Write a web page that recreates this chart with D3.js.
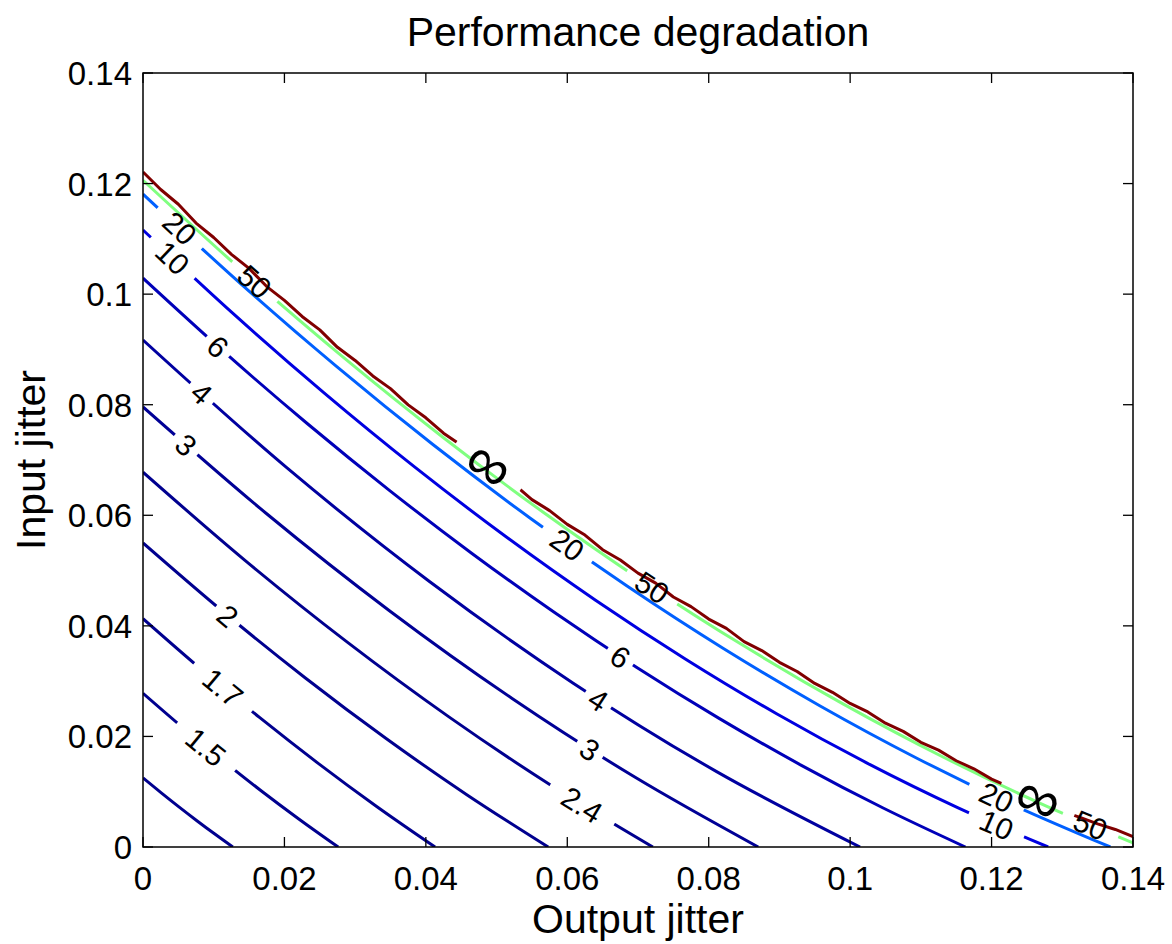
<!DOCTYPE html>
<html><head><meta charset="utf-8">
<script src="https://cdn.jsdelivr.net/npm/d3@7"></script>
<style>
body{margin:0;background:#fff}
svg{display:block}
text{font-family:"Liberation Sans",Arial,Helvetica,sans-serif;fill:#000}
</style>
</head><body>
<svg id="chart" width="1172" height="944"></svg>
<script>
// ---------------- data ----------------
const xTicks = [0, 0.02, 0.04, 0.06, 0.08, 0.1, 0.12, 0.14];
const yTicks = [0, 0.02, 0.04, 0.06, 0.08, 0.1, 0.12, 0.14];
const tickLabels = ["0", "0.02", "0.04", "0.06", "0.08", "0.1", "0.12", "0.14"];

const levelNames = ["1.3", "1.5", "1.7", "2", "2.4", "3", "4", "6", "10", "20", "50", "∞"];

const c1_3 = [[0,0.0125],[0.00254,0.00984],[0.00508,0.00726],[0.00762,0.00476],[0.01016,0.00234],[0.0127,0]];
const c1_5 = [[0,0.0278],[0.00552,0.02171],[0.01104,0.01588],[0.01656,0.01032],[0.02208,0.00503],[0.0276,0]];
const c1_7 = [[0,0.0413],[0.00826,0.03211],[0.01652,0.02339],[0.02478,0.01513],[0.03304,0.00733],[0.0413,0]];
const c2   = [[0,0.055],[0.01146,0.04242],[0.02292,0.03062],[0.03438,0.01962],[0.04584,0.00942],[0.0573,0]];
const c2_4 = [[0,0.0678],[0.01442,0.05185],[0.02884,0.0371],[0.04326,0.02354],[0.05768,0.01117],[0.0721,0]];
const c3   = [[0,0.0796],[0.0174,0.06037],[0.0348,0.04279],[0.0522,0.02687],[0.0696,0.01261],[0.087,0]];
const c4   = [[0,0.0917],[0.02028,0.06866],[0.04056,0.04798],[0.06084,0.02964],[0.08112,0.01364],[0.1014,0]];
const c6   = [[0,0.1029],[0.01163,0.08937],[0.02326,0.07656],[0.03489,0.06447],[0.04652,0.0531],[0.05815,0.04245],[0.06978,0.03252],[0.08141,0.02331],[0.09304,0.01482],[0.10467,0.00705],[0.1163,0]];
const c10  = [[0,0.1116],[0.0128,0.09642],[0.0256,0.08214],[0.0384,0.06875],[0.0512,0.05625],[0.064,0.04464],[0.0768,0.03393],[0.0896,0.0241],[0.1024,0.01518],[0.1152,0.00714],[0.128,0]];
const c20  = [[0,0.1181],[0.01368,0.10204],[0.02736,0.08692],[0.04104,0.07275],[0.05472,0.05952],[0.0684,0.04724],[0.08208,0.0359],[0.09576,0.02551],[0.10944,0.01606],[0.12312,0.00756],[0.1368,0]];
const c50  = [[0,0.1206],[0.01415,0.10411],[0.0283,0.0886],[0.04245,0.07408],[0.0566,0.06055],[0.07075,0.048],[0.0849,0.03643],[0.09905,0.02584],[0.1132,0.01624],[0.12735,0.00763],[0.14,0.00076]];
const cInf = [[0,0.1221],[0.0025,0.11893],[0.005,0.11626],[0.0075,0.11286],[0.01,0.11025],[0.0125,0.1072],[0.015,0.10465],[0.0175,0.10137],[0.02,0.09888],[0.0225,0.09596],[0.025,0.09354],[0.0275,0.09038],[0.03,0.08801],[0.0325,0.08521],[0.035,0.08291],[0.0375,0.07997],[0.04,0.07763],[0.0425,0.07485],[0.045,0.07267],[0.0475,0.06996],[0.05,0.06774],[0.0525,0.06559],[0.055,0.06283],[0.0575,0.06084],[0.06,0.05835],[0.0625,0.05642],[0.065,0.05378],[0.0675,0.05191],[0.07,0.04954],[0.0725,0.04773],[0.075,0.04522],[0.0775,0.04348],[0.08,0.04123],[0.0825,0.03954],[0.085,0.03715],[0.0875,0.03553],[0.09,0.0334],[0.0925,0.03174],[0.095,0.02958],[0.0975,0.02798],[0.1,0.02597],[0.1025,0.02443],[0.105,0.02239],[0.1075,0.02091],[0.11,0.01893],[0.1125,0.01752],[0.115,0.0156],[0.1175,0.01414],[0.12,0.01228],[0.1225,0.01089],[0.125,0.00919],[0.1275,0.00796],[0.13,0.00643],[0.1325,0.00536],[0.135,0.00418],[0.1375,0.00317],[0.14,0.00186]];

const contourData = [c1_3, c1_5, c1_7, c2, c2_4, c3, c4, c6, c10, c20, c50, cInf];

// inline contour labels: which level, and at which output-jitter value along it
const labelLevels = ["1.5","1.7","2","2.4","3","3","4","4","6","6","10","10","20","20","20","50","50","50","∞","∞"];
const labelAtX    = [0.0089,0.0113,0.012,0.0621,0.0061,0.0632,0.0083,0.0644,0.0106,0.0675,0.0042,0.1207,0.0052,0.060,0.1207,0.0158,0.072,0.134,0.0488,0.1265];

// ---------------- styles ----------------
const levelColors = ["rgb(0,0,143)","rgb(0,0,143)","rgb(0,0,143)","rgb(0,0,143)","rgb(0,0,143)","rgb(0,0,150)","rgb(0,0,160)","rgb(0,0,185)","rgb(0,0,225)","rgb(0,96,255)","rgb(128,255,128)","rgb(128,0,0)"];

const W = 1172, H = 944;
const M = {l:143, r:1133, t:73, b:847};

const svg = d3.select("#chart");
svg.append("rect").attr("width",W).attr("height",H).attr("fill","#fff");

const x = d3.scaleLinear().domain([0,0.14]).range([M.l,M.r]);
const y = d3.scaleLinear().domain([0,0.14]).range([M.b,M.t]);

const defs = svg.append("defs");
defs.append("clipPath").attr("id","plotclip").append("rect")
  .attr("x",M.l).attr("y",M.t).attr("width",M.r-M.l).attr("height",M.b-M.t);

const lineGen = d3.line().x(d=>x(d[0])).y(d=>y(d[1]));
const gLines = svg.append("g").attr("clip-path","url(#plotclip)");
const gLabels = svg.append("g");

levelNames.forEach((lv,i)=>{
  const isInf = lv === "∞";
  lineGen.curve(isInf ? d3.curveLinear : d3.curveCatmullRom.alpha(0.5));
  const p = gLines.append("path")
    .attr("d", lineGen(contourData[i]))
    .attr("fill","none")
    .attr("stroke", levelColors[i])
    .attr("stroke-width", 3)
    .attr("stroke-linejoin","round");
  const idx = labelLevels.map((l,j)=> l===lv ? j : -1).filter(j=>j>=0);
  if (!idx.length) return;
  const mask = defs.append("mask").attr("id","mask"+i)
    .attr("maskUnits","userSpaceOnUse").attr("x",0).attr("y",0).attr("width",W).attr("height",H);
  mask.append("rect").attr("x",0).attr("y",0).attr("width",W).attr("height",H).attr("fill","#fff");
  const node = p.node();
  const L = node.getTotalLength();
  idx.forEach(j=>{
    const tx = x(labelAtX[j]);
    let lo = 0, hi = L;
    for (let k=0;k<40;k++){ const mid=(lo+hi)/2; if (node.getPointAtLength(mid).x < tx) lo = mid; else hi = mid; }
    const s = (lo+hi)/2;
    const pt = node.getPointAtLength(s);
    const a = node.getPointAtLength(Math.max(0,s-10));
    const b = node.getPointAtLength(Math.min(L,s+10));
    const ang = Math.atan2(b.y-a.y, b.x-a.x)*180/Math.PI;
    const tr = `translate(${pt.x},${pt.y}) rotate(${ang})`;
    const t = gLabels.append("text")
      .attr("transform", tr)
      .attr("text-anchor","middle")
      .attr("dy", isInf ? "0.30em" : "0.36em")
      .style("font-size", isInf ? "62px" : "30px")
      .text(lv);
    const w = t.node().getComputedTextLength();
    mask.append("rect").attr("transform", tr)
      .attr("x", -0.9*w).attr("y", -15).attr("width", 1.8*w).attr("height", 30)
      .attr("fill","#000");
  });
  p.attr("mask","url(#mask"+i+")");
});

// ---------------- axes box & ticks ----------------
const gAxes = svg.append("g");
const TL = 10;
xTicks.forEach(v=>{
  gAxes.append("line").attr("x1",x(v)).attr("x2",x(v)).attr("y1",M.b).attr("y2",M.b-TL).attr("stroke","#000").attr("stroke-width",1.3);
  gAxes.append("line").attr("x1",x(v)).attr("x2",x(v)).attr("y1",M.t).attr("y2",M.t+TL).attr("stroke","#000").attr("stroke-width",1.3);
});
yTicks.forEach(v=>{
  gAxes.append("line").attr("x1",M.l).attr("x2",M.l+TL).attr("y1",y(v)).attr("y2",y(v)).attr("stroke","#000").attr("stroke-width",1.3);
  gAxes.append("line").attr("x1",M.r).attr("x2",M.r-TL).attr("y1",y(v)).attr("y2",y(v)).attr("stroke","#000").attr("stroke-width",1.3);
});
gAxes.append("rect").attr("x",M.l).attr("y",M.t).attr("width",M.r-M.l).attr("height",M.b-M.t)
  .attr("fill","none").attr("stroke","#000").attr("stroke-width",1.5);

xTicks.forEach((v,i)=>{
  gAxes.append("text").attr("x",x(v)).attr("y",890).attr("text-anchor","middle")
    .style("font-size","33px").text(tickLabels[i]);
});
yTicks.forEach((v,i)=>{
  gAxes.append("text").attr("x",132).attr("y",y(v)+12).attr("text-anchor","end")
    .style("font-size","33px").text(tickLabels[i]);
});

svg.append("text").attr("x",(M.l+M.r)/2).attr("y",46).attr("text-anchor","middle")
  .style("font-size","41px").text("Performance degradation");
svg.append("text").attr("x",(M.l+M.r)/2).attr("y",933).attr("text-anchor","middle")
  .style("font-size","41px").text("Output jitter");
svg.append("text").attr("transform",`translate(45,${(M.t+M.b)/2}) rotate(-90)`).attr("text-anchor","middle")
  .style("font-size","41px").text("Input jitter");
</script>
</body></html>
